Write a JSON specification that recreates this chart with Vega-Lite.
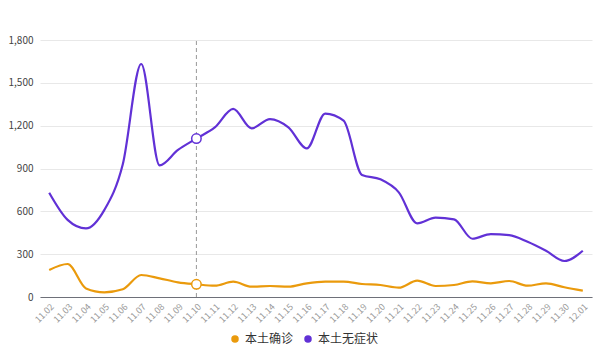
{
  "$schema": "https://vega.github.io/schema/vega-lite/v6.json",
  "width": 552,
  "height": 257,
  "autosize": {"type": "none"},
  "padding": {"left": 40, "top": 40, "right": 9, "bottom": 54},
  "background": "#ffffff",
  "config": {
    "font": "Noto Sans CJK SC",
    "view": {"stroke": null}
  },
  "data": {
    "values": [
      {"date": "11.02", "series": "本土确诊", "value": 189},
      {"date": "11.03", "series": "本土确诊", "value": 231},
      {"date": "11.04", "series": "本土确诊", "value": 60},
      {"date": "11.05", "series": "本土确诊", "value": 33},
      {"date": "11.06", "series": "本土确诊", "value": 54},
      {"date": "11.07", "series": "本土确诊", "value": 154},
      {"date": "11.08", "series": "本土确诊", "value": 131},
      {"date": "11.09", "series": "本土确诊", "value": 103},
      {"date": "11.10", "series": "本土确诊", "value": 89},
      {"date": "11.11", "series": "本土确诊", "value": 79},
      {"date": "11.12", "series": "本土确诊", "value": 107},
      {"date": "11.13", "series": "本土确诊", "value": 72},
      {"date": "11.14", "series": "本土确诊", "value": 77},
      {"date": "11.15", "series": "本土确诊", "value": 72},
      {"date": "11.16", "series": "本土确诊", "value": 96},
      {"date": "11.17", "series": "本土确诊", "value": 107},
      {"date": "11.18", "series": "本土确诊", "value": 107},
      {"date": "11.19", "series": "本土确诊", "value": 91},
      {"date": "11.20", "series": "本土确诊", "value": 84},
      {"date": "11.21", "series": "本土确诊", "value": 65},
      {"date": "11.22", "series": "本土确诊", "value": 114},
      {"date": "11.23", "series": "本土确诊", "value": 77},
      {"date": "11.24", "series": "本土确诊", "value": 84},
      {"date": "11.25", "series": "本土确诊", "value": 110},
      {"date": "11.26", "series": "本土确诊", "value": 96},
      {"date": "11.27", "series": "本土确诊", "value": 112},
      {"date": "11.28", "series": "本土确诊", "value": 79},
      {"date": "11.29", "series": "本土确诊", "value": 96},
      {"date": "11.30", "series": "本土确诊", "value": 68},
      {"date": "12.01", "series": "本土确诊", "value": 44},
      {"date": "11.02", "series": "本土无症状", "value": 730},
      {"date": "11.03", "series": "本土无症状", "value": 540},
      {"date": "11.04", "series": "本土无症状", "value": 480},
      {"date": "11.05", "series": "本土无症状", "value": 610},
      {"date": "11.06", "series": "本土无症状", "value": 930},
      {"date": "11.07", "series": "本土无症状", "value": 1632},
      {"date": "11.08", "series": "本土无症状", "value": 922},
      {"date": "11.09", "series": "本土无症状", "value": 1030},
      {"date": "11.10", "series": "本土无症状", "value": 1110},
      {"date": "11.11", "series": "本土无症状", "value": 1188},
      {"date": "11.12", "series": "本土无症状", "value": 1317},
      {"date": "11.13", "series": "本土无症状", "value": 1181},
      {"date": "11.14", "series": "本土无症状", "value": 1246},
      {"date": "11.15", "series": "本土无症状", "value": 1188},
      {"date": "11.16", "series": "本土无症状", "value": 1041},
      {"date": "11.17", "series": "本土无症状", "value": 1285},
      {"date": "11.18", "series": "本土无症状", "value": 1235},
      {"date": "11.19", "series": "本土无症状", "value": 855},
      {"date": "11.20", "series": "本土无症状", "value": 824},
      {"date": "11.21", "series": "本土无症状", "value": 733},
      {"date": "11.22", "series": "本土无症状", "value": 516},
      {"date": "11.23", "series": "本土无症状", "value": 556},
      {"date": "11.24", "series": "本土无症状", "value": 544},
      {"date": "11.25", "series": "本土无症状", "value": 408},
      {"date": "11.26", "series": "本土无症状", "value": 441},
      {"date": "11.27", "series": "本土无症状", "value": 434},
      {"date": "11.28", "series": "本土无症状", "value": 387},
      {"date": "11.29", "series": "本土无症状", "value": 324},
      {"date": "11.30", "series": "本土无症状", "value": 252},
      {"date": "12.01", "series": "本土无症状", "value": 324}
    ]
  },
  "encoding": {
    "x": {
      "field": "date",
      "type": "ordinal",
      "scale": {"type": "point", "padding": 0.5},
      "axis": {
        "title": null,
        "labelAngle": -45,
        "labelAlign": "right",
        "labelBaseline": "top",
        "labelFontSize": 9,
        "labelColor": "#9a9a9a",
        "labelPadding": 5,
        "ticks": false,
        "domainColor": "#6e7079",
        "grid": false,
        "labelOverlap": false
      }
    },
    "y": {
      "field": "value",
      "type": "quantitative",
      "scale": {"domain": [0, 1800], "nice": false},
      "axis": {
        "title": null,
        "values": [0, 300, 600, 900, 1200, 1500, 1800],
        "format": ",d",
        "labelFontSize": 10,
        "labelColor": "#444444",
        "labelPadding": 7,
        "ticks": false,
        "domain": false,
        "gridColor": "#e8e8e8"
      }
    },
    "color": {
      "field": "series",
      "type": "nominal",
      "scale": {"domain": ["本土确诊", "本土无症状"], "range": ["#ea9a0c", "#6131d6"]},
      "legend": {
        "title": null,
        "orient": "none",
        "direction": "horizontal",
        "legendX": 189,
        "legendY": 293,
        "symbolType": "circle",
        "symbolSize": 36,
        "labelFontSize": 12,
        "labelColor": "#333333",
        "columnPadding": 8,
        "labelOffset": 4
      }
    }
  },
  "layer": [
    {
      "transform": [{"filter": "datum.date == '11.10' && datum.series == '本土确诊'"}],
      "mark": {"type": "rule", "color": "#999999", "strokeDash": [4, 3], "strokeWidth": 1},
      "encoding": {
        "y": {"datum": 0},
        "y2": {"datum": 1800},
        "color": {"value": "#999999"}
      }
    },
    {
      "mark": {"type": "line", "interpolate": "monotone", "strokeWidth": 2.2}
    },
    {
      "transform": [{"filter": "datum.date == '11.10'"}],
      "mark": {"type": "point", "filled": true, "fill": "#ffffff", "size": 90, "strokeWidth": 1.5, "opacity": 1},
      "encoding": {
        "stroke": {"field": "series", "type": "nominal", "scale": {"domain": ["本土确诊", "本土无症状"], "range": ["#ea9a0c", "#6131d6"]}, "legend": null}
      }
    }
  ]
}
